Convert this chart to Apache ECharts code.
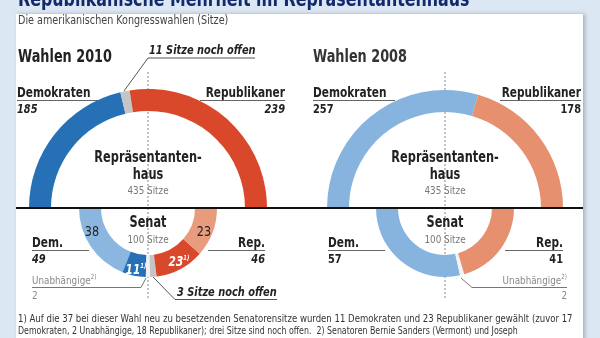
<!DOCTYPE html>
<html>
<head>
<meta charset="utf-8">
<script src="https://cdn.jsdelivr.net/npm/echarts@6/dist/echarts.min.js"></script>
<style>
  html, body { margin: 0; padding: 0; background: #dce7f4; }
  #chart { width: 600px; height: 338px; }
</style>
</head>
<body>
<div id="chart"></div>
<script>
// Seats in the House of Representatives (435)
const houseParts2010 = ['Demokraten', 'Sitze noch offen', 'Republikaner'];
const houseSeats2010 = [185, 11, 239];
const houseParts2008 = ['Demokraten', 'Republikaner'];
const houseSeats2008 = [257, 178];

// Seats in the Senate (100)
const senateParts2010 = ['Dem. bisher', 'Dem. neu', 'Unabhängige', 'Sitze noch offen', 'Rep. neu', 'Rep. bisher'];
const senateSeats2010 = [38, 11, 2, 3, 23, 23];
const senateParts2008 = ['Dem.', 'Unabhängige', 'Rep.'];
const senateSeats2008 = [57, 2, 41];

const houseTotal = 435;
const senateTotal = 100;

// condensed face, squeezed a little further horizontally per element
const FONT = '"DejaVu Sans Condensed", "DejaVu Sans", sans-serif';
const f = (w, s, style) => (style || '') + ' ' + w + ' ' + s + 'px ' + FONT;
const SB = 0.84;   // squeeze for bold text
const SN = 0.89;   // squeeze for regular text

const col = {
  dem: '#2670b6', rep: '#d9482b', open: '#c4c5c7',
  demL: '#87b4df', repL: '#e6906f', demS: '#8bb6e0', repS: '#e99b7e', ind: '#f2f2f2'
};

function ring(name, center, radius, labels, values, colors, total, clockwise) {
  const data = values.map((v, i) => ({ name: labels[i], value: v, itemStyle: { color: colors[i] } }));
  data.push({ name: '', value: total, itemStyle: { color: 'rgba(0,0,0,0)' } });
  return {
    type: 'pie', name, center, radius, startAngle: 180, clockwise,
    silent: true, animation: false, label: { show: false }, labelLine: { show: false },
    emphasis: { disabled: true }, avoidLabelOverlap: false, minAngle: 0,
    itemStyle: { borderWidth: 0 }, z: 2, data
  };
}

const sum = a => a.reduce((s, v) => s + v, 0);
const dem2010 = senateSeats2010[0] + senateSeats2010[1];
const rep2010 = senateSeats2010[4] + senateSeats2010[5];

function txt(text, x, y, font, fill, align, sx) {
  return {
    type: 'text', z: 20, x, y, scaleX: sx || (font.indexOf('bold') >= 0 ? SB : SN),
    style: { text, x: 0, y: 0, font, fill: fill || '#222', align: align || 'left', verticalAlign: 'middle' }
  };
}
function line(x1, y1, x2, y2, stroke, w, dash, z) {
  return { type: 'line', z: z == null ? 20 : z, shape: { x1, y1, x2, y2 },
    style: { stroke: stroke || '#555', lineWidth: w || 1, lineDash: dash || null } };
}
function poly(points, stroke, w) {
  return { type: 'polyline', z: 20, shape: { points }, style: { stroke: stroke || '#555', lineWidth: w || 1, fill: null } };
}
function supText(main, sup, x, y, color) {
  return {
    type: 'text', z: 20, x, y, scaleX: SB,
    style: {
      text: '{m|' + main + '}{s|' + sup + '}', x: 0, y: 0, align: 'center', verticalAlign: 'middle',
      rich: {
        m: { font: f('bold', 14, 'italic'), fill: color },
        s: { font: f('bold', 7, 'italic'), fill: color, verticalAlign: 'top', padding: [0, 0, 8, 0] }
      }
    }
  };
}
function indep(x, y, align) {
  return {
    type: 'text', z: 20, x, y, scaleX: SN,
    style: { text: '{m|Unabhängige}{s|2)}', x: 0, y: 0, align, verticalAlign: 'middle',
      rich: { m: { font: f('normal', 11), fill: '#888' },
        s: { font: f('normal', 7), fill: '#888', verticalAlign: 'top', padding: [0, 0, 7, 0] } } }
  };
}

const L = 148, R = 445, CY = 208;

const graphics = [
  { type: 'rect', z: 0, shape: { x: 16, y: 14, width: 567, height: 340 },
    style: { fill: '#ffffff', shadowBlur: 4, shadowOffsetX: 2, shadowColor: 'rgba(0,0,0,0.25)' } },
  txt('Republikanische Mehrheit im Repräsentantenhaus', 18, 0, f('bold', 22), '#13296b', 'left', 0.8),
  txt('Die amerikanischen Kongresswahlen (Sitze)', 18, 21, f('normal', 12), '#444'),

  // centre guides
  line(L, 72, L, 300, '#888', 1, [2, 2], 1),
  line(R, 72, R, 298, '#888', 1, [2, 2], 1),

  // divider between House and Senate
  line(16, CY, 583, CY, '#111', 2, null, 30),

  // ---- 2010 ----
  txt('Wahlen 2010', 18, 58, f('bold', 17), '#222'),
  txt('11 Sitze noch offen', 149, 51, f('bold', 13, 'italic'), '#222'),
  poly([[255, 58], [148, 58], [124, 91]], '#555', 1),
  txt(houseParts2010[0], 17, 93, f('bold', 14)),
  line(17, 100.5, 98, 100.5, '#666'),
  txt(String(houseSeats2010[0]), 17, 110, f('bold', 13, 'italic')),
  txt(houseParts2010[2], 285, 93, f('bold', 14), '#222', 'right'),
  line(200, 100.5, 285, 100.5, '#666'),
  txt(String(houseSeats2010[2]), 285, 110, f('bold', 13, 'italic'), '#222', 'right'),
  txt('Repräsentanten-', L, 158, f('bold', 15), '#222', 'center'),
  txt('haus', L, 175, f('bold', 15), '#222', 'center'),
  txt(houseTotal + ' Sitze', L, 191, f('normal', 11), '#777', 'center'),

  txt('Senat', L, 223, f('bold', 15), '#222', 'center'),
  txt(senateTotal + ' Sitze', L, 240, f('normal', 11), '#777', 'center'),
  txt(String(senateSeats2010[0]), 92, 232, f('normal', 14), '#222', 'center'),
  txt(String(senateSeats2010[5]), 204, 232, f('normal', 14), '#222', 'center'),
  supText(String(senateSeats2010[1]), '1)', 136, 270, '#fff'),
  supText(String(senateSeats2010[4]), '1)', 179, 262, '#fff'),
  txt('Dem.', 32, 243, f('bold', 14)),
  line(32, 250.5, 89, 250.5, '#666'),
  txt(String(dem2010), 32, 260, f('bold', 13, 'italic')),
  txt('Rep.', 265, 243, f('bold', 14), '#222', 'right'),
  line(208, 250.5, 265, 250.5, '#666'),
  txt(String(rep2010), 265, 260, f('bold', 13, 'italic'), '#222', 'right'),
  indep(32, 281, 'left'),
  poly([[32, 287.5], [141, 287.5], [146, 278]], '#777', 1),
  txt(String(senateSeats2010[2]), 32, 296, f('normal', 11), '#888'),
  txt('3 Sitze noch offen', 177, 293, f('bold', 13, 'italic'), '#222'),
  poly([[277, 299.5], [175, 299.5], [153, 277]], '#555', 1),

  // ---- 2008 ----
  txt('Wahlen 2008', 313, 58, f('bold', 17), '#333'),
  txt(houseParts2008[0], 313, 93, f('bold', 14)),
  line(313, 100.5, 395, 100.5, '#666'),
  txt(String(houseSeats2008[0]), 313, 110, f('bold', 13)),
  txt(houseParts2008[1], 581, 93, f('bold', 14), '#222', 'right'),
  line(500, 100.5, 581, 100.5, '#666'),
  txt(String(houseSeats2008[1]), 581, 110, f('bold', 13), '#222', 'right'),
  txt('Repräsentanten-', R, 158, f('bold', 15), '#222', 'center'),
  txt('haus', R, 175, f('bold', 15), '#222', 'center'),
  txt(houseTotal + ' Sitze', R, 191, f('normal', 11), '#777', 'center'),

  txt('Senat', R, 223, f('bold', 15), '#222', 'center'),
  txt(senateTotal + ' Sitze', R, 240, f('normal', 11), '#777', 'center'),
  txt(senateParts2008[0], 328, 243, f('bold', 14)),
  line(328, 250.5, 385, 250.5, '#666'),
  txt(String(senateSeats2008[0]), 328, 260, f('bold', 13)),
  txt(senateParts2008[2], 563, 243, f('bold', 14), '#222', 'right'),
  line(505, 250.5, 563, 250.5, '#666'),
  txt(String(senateSeats2008[2]), 563, 260, f('bold', 13), '#222', 'right'),
  indep(567, 281, 'right'),
  poly([[567, 287.5], [472, 287.5], [461, 278]], '#777', 1),
  txt(String(senateSeats2008[1]), 567, 296, f('normal', 11), '#888', 'right'),

  // footnotes
  txt('1) Auf die 37 bei dieser Wahl neu zu besetzenden Senatorensitze wurden 11 Demokraten und 23 Republikaner gewählt (zuvor 17', 18, 319, f('normal', 10), '#333', 'left', 0.95),
  txt('Demokraten, 2 Unabhängige, 18 Republikaner); drei Sitze sind noch offen.  2) Senatoren Bernie Sanders (Vermont) und Joseph', 18, 331, f('normal', 10), '#333', 'left', 0.875)
];

const chart = echarts.init(document.getElementById('chart'), null, { renderer: 'canvas' });
chart.setOption({
  backgroundColor: '#dce7f4',
  animation: false,
  graphic: { elements: graphics },
  series: [
    ring('Repräsentantenhaus 2010', [L, CY], [97, 119], houseParts2010, houseSeats2010,
      [col.dem, col.open, col.rep], sum(houseSeats2010), true),
    ring('Repräsentantenhaus 2008', [R, CY], [96, 118], houseParts2008, houseSeats2008,
      [col.demL, col.repL], sum(houseSeats2008), true),
    ring('Senat 2010', [L, CY], [47, 69], senateParts2010, senateSeats2010,
      [col.demS, col.dem, col.ind, col.open, col.rep, col.repS], sum(senateSeats2010), false),
    ring('Senat 2008', [R, CY], [47, 69], senateParts2008, senateSeats2008,
      [col.demL, col.ind, col.repL], sum(senateSeats2008), false)
  ]
});
</script>
</body>
</html>
